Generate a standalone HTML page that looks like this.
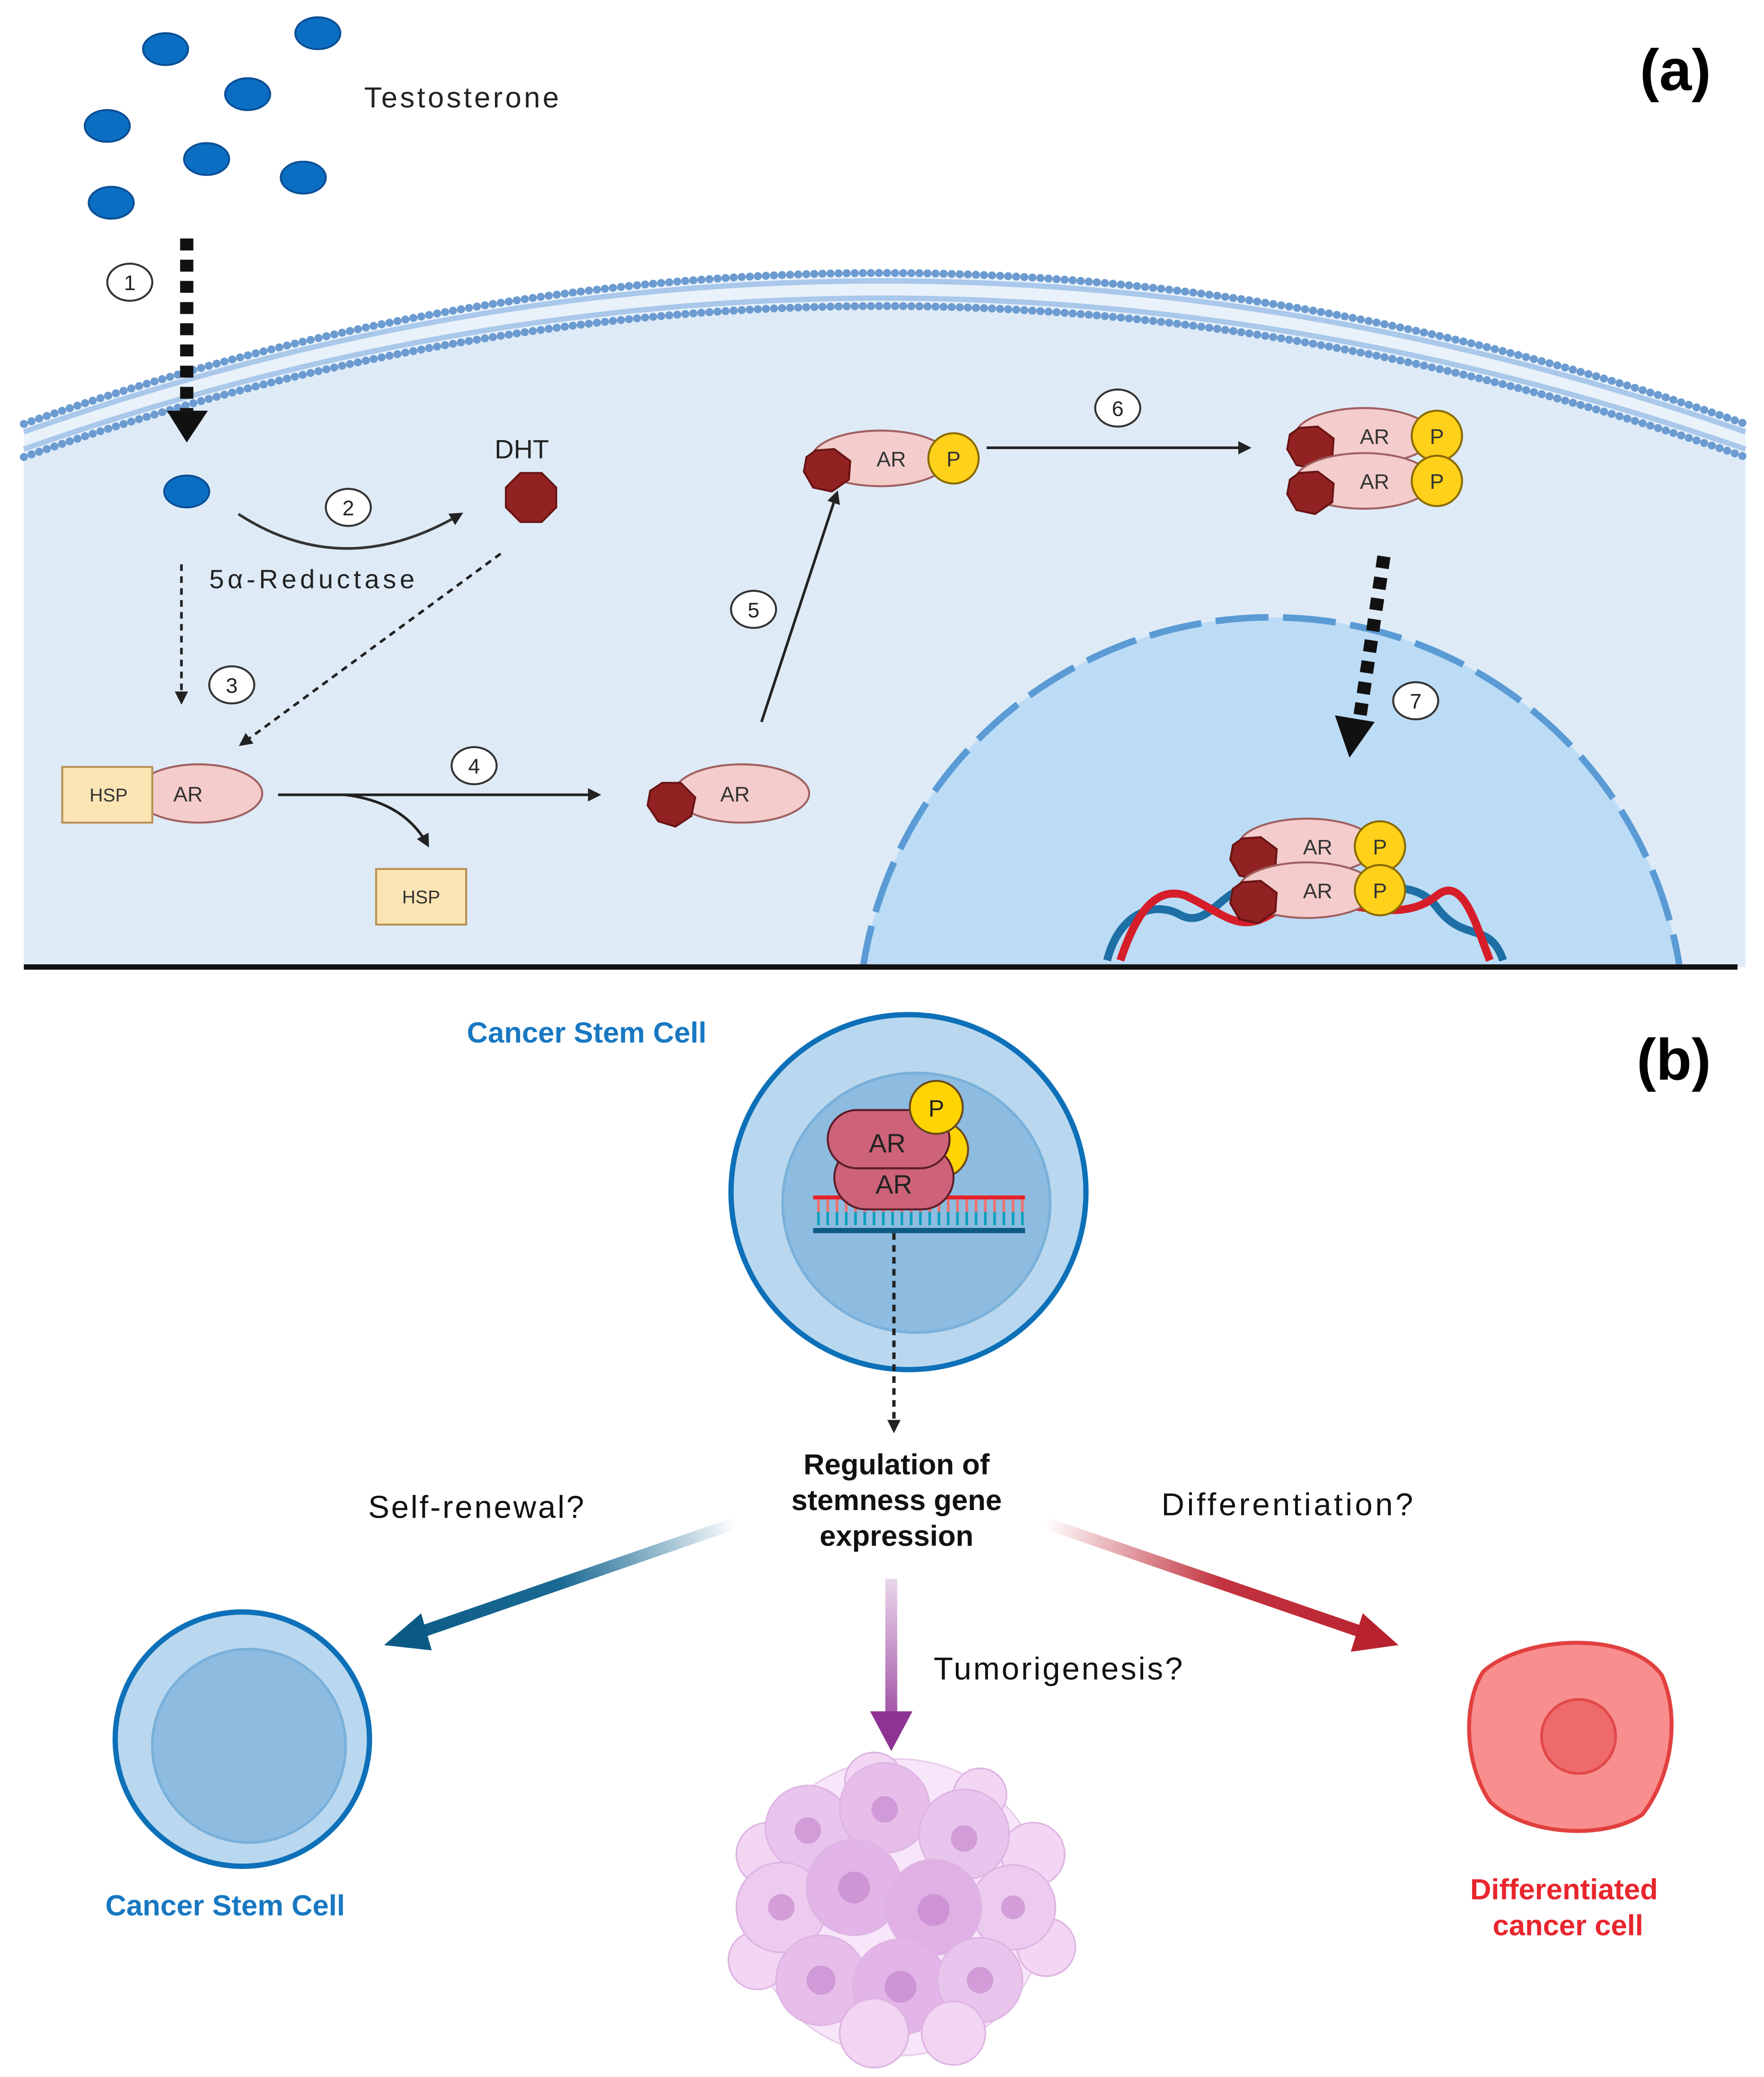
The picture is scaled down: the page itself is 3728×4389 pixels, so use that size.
<!DOCTYPE html>
<html><head><meta charset="utf-8"><style>
html,body{margin:0;padding:0;background:#fff;}
svg{display:block;}
text{font-family:"Liberation Sans",sans-serif;}
</style></head><body>
<svg width="3728" height="4389" viewBox="0 0 1332 1568" xmlns="http://www.w3.org/2000/svg">
<defs>
<linearGradient id="gb" x1="555" y1="1150" x2="290" y2="1240" gradientUnits="userSpaceOnUse"><stop offset="0" stop-color="#0d5f8c" stop-opacity="0"/><stop offset="0.5" stop-color="#1a6a94"/><stop offset="1" stop-color="#0b5a86"/></linearGradient>
<linearGradient id="gr" x1="790" y1="1150" x2="1055" y2="1240" gradientUnits="userSpaceOnUse"><stop offset="0" stop-color="#c0303a" stop-opacity="0"/><stop offset="0.5" stop-color="#c23340"/><stop offset="1" stop-color="#b8222e"/></linearGradient>
<linearGradient id="gp" x1="0" y1="1190" x2="0" y2="1320" gradientUnits="userSpaceOnUse"><stop offset="0" stop-color="#9a3fa0" stop-opacity="0.2"/><stop offset="1" stop-color="#8e3393"/></linearGradient>
<marker id="ah" markerWidth="10" markerHeight="10" refX="8" refY="5" orient="auto" markerUnits="userSpaceOnUse"><path d="M0,0 L10,5 L0,10 z" fill="#222"/></marker>
</defs>

<path d="M18,345 Q665,117 1318,345 L1318,730 L18,730 Z" fill="#deebf7"/>
<path d="M18,320 Q665,92 1318,320 L1318,345 Q665,117 18,345 Z" fill="#e9f1fa"/>
<path d="M18,320 Q665,92 1318,320" fill="none" stroke="#6b9bd0" stroke-width="6" stroke-dasharray="0.1 6" stroke-linecap="round"/>
<path d="M18,345 Q665,117 1318,345" fill="none" stroke="#6b9bd0" stroke-width="6" stroke-dasharray="0.1 6" stroke-linecap="round"/>
<path d="M18,326 Q665,98 1318,326" fill="none" stroke="#a9c8ea" stroke-width="4"/>
<path d="M18,339 Q665,111 1318,339" fill="none" stroke="#a9c8ea" stroke-width="4"/>

<clipPath id="cn"><rect x="0" y="0" width="1332" height="728"/></clipPath>
<circle cx="960" cy="778" r="312" fill="#bcdcf6" stroke="#5b9bd5" stroke-width="5" stroke-dasharray="40 11" clip-path="url(#cn)"/>
<line x1="18" y1="730" x2="1312" y2="730" stroke="#111" stroke-width="4"/>

<g fill="#0a6fc2" stroke="#0b4f96" stroke-width="1.5">
<ellipse cx="125" cy="37" rx="17" ry="12"/><ellipse cx="240" cy="25" rx="17" ry="12"/>
<ellipse cx="187" cy="71" rx="17" ry="12"/><ellipse cx="81" cy="95" rx="17" ry="12"/>
<ellipse cx="156" cy="120" rx="17" ry="12"/><ellipse cx="229" cy="134" rx="17" ry="12"/>
<ellipse cx="84" cy="153" rx="17" ry="12"/><ellipse cx="141" cy="371" rx="17" ry="12"/>
</g>
<text x="275" y="81" font-size="22" fill="#222" textLength="147">Testosterone</text>
<text x="1292" y="68" font-size="44" font-weight="bold" text-anchor="end">(a)</text>
<text x="1292" y="815" font-size="44" font-weight="bold" text-anchor="end">(b)</text>

<line x1="141" y1="180" x2="141" y2="310" stroke="#111" stroke-width="10" stroke-dasharray="9 7"/>
<path d="M126,310 L157,310 L141,334 Z" fill="#111"/>
<g fill="#fff" stroke="#333" stroke-width="1.5">
<ellipse cx="98" cy="213" rx="17" ry="14"/><ellipse cx="263" cy="383" rx="17" ry="14"/>
<ellipse cx="175" cy="517" rx="17" ry="14"/><ellipse cx="358" cy="578" rx="17" ry="14"/>
<ellipse cx="569" cy="460" rx="17" ry="14"/><ellipse cx="844" cy="308" rx="17" ry="14"/>
<ellipse cx="1069" cy="529" rx="17" ry="14"/>
</g>
<g font-size="16" fill="#222" text-anchor="middle">
<text x="98" y="219">1</text><text x="263" y="389">2</text><text x="175" y="523">3</text>
<text x="358" y="584">4</text><text x="569" y="466">5</text><text x="844" y="314">6</text><text x="1069" y="535">7</text>
</g>

<path d="M180,388 Q260,440 348,388" fill="none" stroke="#333" stroke-width="2" marker-end="url(#ah)"/>
<text x="394" y="346" font-size="20" text-anchor="middle" fill="#222">DHT</text>
<polygon points="393,357 409,357 420,368 420,383 409,394 393,394 382,383 382,368" fill="#922222" stroke="#6a1414" stroke-width="1.5"/>
<text x="158" y="444" font-size="20" fill="#222" textLength="155">5α-Reductase</text>
<line x1="137" y1="426" x2="137" y2="530" stroke="#222" stroke-width="2" stroke-dasharray="5 4" marker-end="url(#ah)"/>
<line x1="378" y1="418" x2="182" y2="562" stroke="#222" stroke-width="2" stroke-dasharray="5 4" marker-end="url(#ah)"/>

<ellipse cx="150" cy="599" rx="48" ry="22" fill="#f4cccc" stroke="#a06060" stroke-width="1.5"/>
<rect x="47" y="579" width="68" height="42" fill="#fce5b5" stroke="#b89155" stroke-width="1.5"/>
<text x="82" y="605" font-size="14" text-anchor="middle" fill="#333">HSP</text>
<text x="142" y="605" font-size="16" text-anchor="middle" fill="#333">AR</text>
<line x1="210" y1="600" x2="452" y2="600" stroke="#222" stroke-width="2" marker-end="url(#ah)"/>
<path d="M260,600 Q305,605 323,638" fill="none" stroke="#222" stroke-width="2" marker-end="url(#ah)"/>
<rect x="284" y="656" width="68" height="42" fill="#fce5b5" stroke="#b89155" stroke-width="1.5"/>
<text x="318" y="682" font-size="14" text-anchor="middle" fill="#333">HSP</text>

<ellipse cx="560" cy="599" rx="51" ry="22" fill="#f4cccc" stroke="#a06060" stroke-width="1.5"/>
<text x="555" y="605" font-size="16" text-anchor="middle" fill="#333">AR</text>
<polygon points="500,591 514,591 525,602 522,616 510,624 497,620 489,608 491,597" fill="#922222" stroke="#6a1414" stroke-width="1.5"/>
<line x1="575" y1="545" x2="632" y2="372" stroke="#222" stroke-width="2" marker-end="url(#ah)"/>

<g id="arp">
<ellipse cx="665" cy="346" rx="52" ry="21" fill="#f4cccc" stroke="#a06060" stroke-width="1.5"/>
<text x="673" y="352" font-size="16" text-anchor="middle" fill="#333">AR</text>
<polygon points="616,340 630,339 642,348 641,362 628,371 614,368 607,356 609,345" fill="#922222" stroke="#6a1414" stroke-width="1.5"/>
<circle cx="720" cy="346" r="19" fill="#ffd11a" stroke="#8a6a00" stroke-width="1.5"/>
<text x="720" y="352" font-size="16" text-anchor="middle" fill="#333">P</text>
</g>
<line x1="745" y1="338" x2="943" y2="338" stroke="#222" stroke-width="2" marker-end="url(#ah)"/>
<use href="#arp" transform="translate(365,-17)"/>
<use href="#arp" transform="translate(365,17)"/>

<line x1="1045" y1="420" x2="1027" y2="540" stroke="#111" stroke-width="10" stroke-dasharray="9 7"/>
<path d="M1008,540 L1038,545 L1019,572 Z" fill="#111"/>

<path d="M836,725 C845,690 870,680 890,690 C915,705 925,660 955,672 C990,690 1060,650 1085,685 C1105,712 1125,695 1135,725" fill="none" stroke="#1d6fa5" stroke-width="6"/>
<path d="M846,725 C856,695 870,668 895,676 C925,690 935,705 960,690 C1000,665 1050,705 1085,676 C1105,660 1115,700 1125,725" fill="none" stroke="#d61e2a" stroke-width="6"/>
<use href="#arp" transform="translate(322,293)"/>
<use href="#arp" transform="translate(322,326)"/>

<text x="443" y="787" font-size="22" font-weight="bold" text-anchor="middle" fill="#1878c2">Cancer Stem Cell</text>
<circle cx="686" cy="900" r="134" fill="#b9d8ef" stroke="#0d70b8" stroke-width="4"/>
<ellipse cx="692" cy="908" rx="101" ry="98" fill="#8dbce0" stroke="#7ab0d9" stroke-width="2"/>
<line x1="614" y1="904" x2="774" y2="904" stroke="#e8222a" stroke-width="3"/>
<line x1="614" y1="929" x2="774" y2="929" stroke="#0e5b86" stroke-width="4"/>
<line x1="617" y1="905" x2="773" y2="905" stroke="#f07070" stroke-width="11" stroke-dasharray="2 5" transform="translate(0,6)"/>
<line x1="617" y1="920" x2="773" y2="920" stroke="#0a9fbf" stroke-width="10" stroke-dasharray="2 5"/>
<circle cx="710" cy="868" r="21" fill="#ffd400" stroke="#6a4a20" stroke-width="1.5"/>
<rect x="630" y="865" width="90" height="48" rx="24" fill="#cd6278" stroke="#5c1e2a" stroke-width="1.5"/>
<rect x="625" y="838" width="92" height="44" rx="22" fill="#cd6278" stroke="#5c1e2a" stroke-width="1.5"/>
<circle cx="707" cy="836" r="20" fill="#ffd400" stroke="#6a4a20" stroke-width="1.5"/>
<text x="707" y="843" font-size="18" text-anchor="middle" fill="#222">P</text>
<text x="670" y="870" font-size="20" text-anchor="middle" fill="#222">AR</text>
<text x="675" y="901" font-size="20" text-anchor="middle" fill="#222">AR</text>
<line x1="675" y1="931" x2="675" y2="1080" stroke="#222" stroke-width="2.5" stroke-dasharray="5 4" marker-end="url(#ah)"/>

<g font-size="22" font-weight="bold" text-anchor="middle" fill="#111">
<text x="677" y="1113">Regulation of</text><text x="677" y="1140">stemness gene</text><text x="677" y="1167">expression</text>
</g>
<g font-size="24" fill="#111">
<text x="278" y="1146" textLength="163">Self-renewal?</text>
<text x="877" y="1144" textLength="190">Differentiation?</text>
<text x="705" y="1268" textLength="188">Tumorigenesis?</text>
</g>
<line x1="555" y1="1150" x2="318" y2="1232" stroke="url(#gb)" stroke-width="9"/>
<path d="M290,1242 L318,1218 L326,1246 Z" fill="#0b5a86"/>
<line x1="790" y1="1150" x2="1028" y2="1232" stroke="url(#gr)" stroke-width="9"/>
<path d="M1056,1242 L1029,1218 L1020,1247 Z" fill="#b8222e"/>
<line x1="673" y1="1192" x2="673" y2="1295" stroke="url(#gp)" stroke-width="9"/>
<path d="M657,1292 L689,1292 L673,1322 Z" fill="#8e3393"/>

<circle cx="183" cy="1313" r="96" fill="#b9d8ef" stroke="#0d70b8" stroke-width="4"/>
<circle cx="188" cy="1318" r="73" fill="#8dbce0" stroke="#7ab0d9" stroke-width="2"/>
<text x="170" y="1446" font-size="22" font-weight="bold" text-anchor="middle" fill="#1878c2">Cancer Stem Cell</text>

<path d="M1120,1262 C1150,1235 1230,1230 1255,1265 C1270,1300 1260,1345 1240,1370 C1210,1390 1150,1385 1125,1360 C1105,1330 1105,1285 1120,1262 Z" fill="#f98e8e" stroke="#e24040" stroke-width="3"/>
<circle cx="1192" cy="1311" r="28" fill="#ef6a6a" stroke="#e24848" stroke-width="2"/>
<g font-size="22" font-weight="bold" text-anchor="middle" fill="#e8262d">
<text x="1181" y="1434">Differentiated</text><text x="1184" y="1461">cancer cell</text>
</g>

<g stroke="#d9a8df" stroke-width="1.2" opacity="0.85">
<circle cx="678" cy="1440" r="112" fill="#f3d6f5" opacity="0.7"/>
<circle cx="580" cy="1400" r="24" fill="#f0d0f2"/><circle cx="780" cy="1400" r="24" fill="#f0d0f2"/>
<circle cx="790" cy="1470" r="22" fill="#f0d0f2"/><circle cx="572" cy="1480" r="22" fill="#f0d0f2"/>
<circle cx="660" cy="1345" r="22" fill="#f0d0f2"/><circle cx="740" cy="1355" r="20" fill="#f0d0f2"/>
<circle cx="610" cy="1380" r="32" fill="#e6bbea"/><circle cx="668" cy="1365" r="34" fill="#e3b3e7"/>
<circle cx="728" cy="1385" r="34" fill="#e6bbea"/><circle cx="765" cy="1440" r="32" fill="#eac3ed"/>
<circle cx="590" cy="1440" r="34" fill="#eac3ed"/><circle cx="645" cy="1425" r="36" fill="#dea8e3"/>
<circle cx="705" cy="1440" r="36" fill="#dba2e0"/><circle cx="620" cy="1495" r="34" fill="#e3b3e7"/>
<circle cx="680" cy="1500" r="36" fill="#dea8e3"/><circle cx="740" cy="1495" r="32" fill="#e6bbea"/>
<circle cx="660" cy="1535" r="26" fill="#f0cdf2"/><circle cx="720" cy="1535" r="24" fill="#f0cdf2"/>
</g>
<g fill="#c281ca" opacity="0.6">
<circle cx="610" cy="1382" r="10"/><circle cx="668" cy="1366" r="10"/><circle cx="728" cy="1388" r="10"/>
<circle cx="645" cy="1425" r="12"/><circle cx="705" cy="1442" r="12"/><circle cx="590" cy="1440" r="10"/>
<circle cx="765" cy="1440" r="9"/><circle cx="620" cy="1495" r="11"/><circle cx="680" cy="1500" r="12"/><circle cx="740" cy="1495" r="10"/>
</g>
</svg>
</body></html>
